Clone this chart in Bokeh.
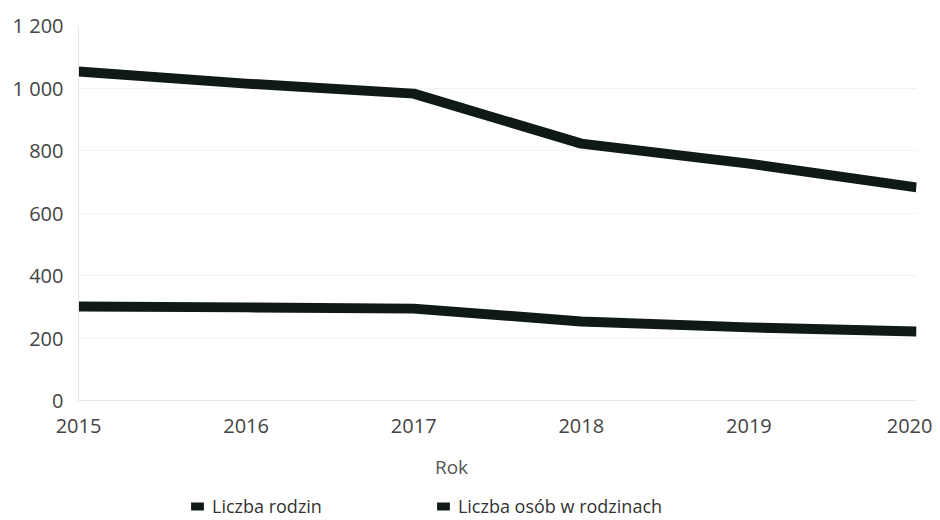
from bokeh.plotting import figure
from bokeh.layouts import column
from bokeh.models import Range1d, FixedTicker, Legend, LegendItem, ColumnDataSource, Label
from bokeh.embed import file_html
from bokeh.resources import INLINE

years = [2015, 2016, 2017, 2018, 2019, 2020]
liczba_rodzin = [1053, 1014, 982, 822, 758, 682]
liczba_osob = [301, 298, 294, 253, 234, 221]
y_ticks = [0, 200, 400, 600, 800, 1000, 1200]
y_tick_labels = {0: "0", 200: "200", 400: "400", 600: "600", 800: "800", 1000: "1 000", 1200: "1 200"}
series_names = ["Liczba rodzin", "Liczba osób w rodzinach"]
x_title = "Rok"

LINE_COLOR = "#0f1a17"
FONT = "Open Sans"
NAN = float("nan")

p = figure(width=932, height=450, output_backend="svg", toolbar_location=None,
           x_range=Range1d(2015, 2020), y_range=Range1d(0, 1200),
           min_border_left=78, min_border_right=16, min_border_top=25, min_border_bottom=50)
p.outline_line_color = None
p.background_fill_color = "white"

src = ColumnDataSource(dict(x=years, a=liczba_rodzin, b=liczba_osob))
p.line("x", "a", source=src, line_color=LINE_COLOR, line_width=10, line_join="round", line_cap="butt")
p.line("x", "b", source=src, line_color=LINE_COLOR, line_width=10, line_join="round", line_cap="butt")

p.xaxis.ticker = FixedTicker(ticks=years)
p.yaxis.ticker = FixedTicker(ticks=y_ticks)
p.yaxis.major_label_overrides = y_tick_labels

for ax in (p.xaxis, p.yaxis):
    ax.major_tick_line_color = None
    ax.minor_tick_line_color = None
    ax.axis_line_color = "#e6e6e6"
    ax.major_label_text_font = FONT
    ax.major_label_text_font_size = "20px"
    ax.major_label_text_color = "#444444"
p.yaxis.major_label_standoff = 9
p.xaxis.major_label_standoff = 12

p.xgrid.grid_line_color = None
p.ygrid.grid_line_color = "#f3f3f3"
p.ygrid.ticker = FixedTicker(ticks=y_ticks)

# strip below the chart: axis title and legend (swatch glyphs carry no visible data)
lg = figure(width=932, height=69, output_backend="svg", toolbar_location=None,
            x_axis_type=None, y_axis_type=None, min_border=0,
            x_range=Range1d(0, 1), y_range=Range1d(0, 1))
lg.outline_line_color = None
lg.add_layout(Label(x=373, y=53, x_units="screen", y_units="screen", text=x_title,
                    text_align="center", text_baseline="middle", text_font=FONT,
                    text_font_size="19px", text_color="#555555"))
q1 = lg.quad(left=[NAN], right=[NAN], top=[NAN], bottom=[NAN], fill_color=LINE_COLOR, line_color=None)
q2 = lg.quad(left=[NAN], right=[NAN], top=[NAN], bottom=[NAN], fill_color=LINE_COLOR, line_color=None)

legend = Legend(items=[LegendItem(label=series_names[0], renderers=[q1]),
                       LegendItem(label=series_names[1], renderers=[q2])],
                orientation="horizontal", location=(111, 1), spacing=113,
                glyph_width=16, glyph_height=10, label_standoff=7,
                label_text_font=FONT, label_text_font_size="18px", label_text_color="#333333",
                border_line_color=None, background_fill_alpha=0, padding=0, margin=0)
lg.add_layout(legend, "center")

layout = column(p, lg, spacing=0)
open("out.html", "w").write(file_html(layout, INLINE))
